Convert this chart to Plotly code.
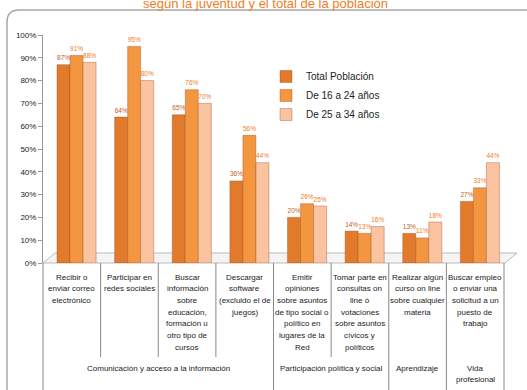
import plotly.graph_objects as go

categories = [
    "Recibir o<br>enviar correo<br>electrónico",
    "Participar en<br>redes sociales",
    "Buscar<br>información<br>sobre<br>educación,<br>formación u<br>otro tipo de<br>cursos",
    "Descargar<br>software<br>(excluido el de<br>juegos)",
    "Emitir<br>opiniones<br>sobre asuntos<br>de tipo social o<br>político en<br>lugares de la<br>Red",
    "Tomar parte en<br>consultas on<br>line ó<br>votaciones<br>sobre asuntos<br>cívicos y<br>políticos",
    "Realizar algún<br>curso on line<br>sobre cualquier<br>materia",
    "Buscar empleo<br>o enviar una<br>solicitud a un<br>puesto de<br>trabajo",
]
series_names = ["Total Población", "De 16 a 24 años", "De 25 a 34 años"]
total = [87, 64, 65, 36, 20, 14, 13, 27]
young_16_24 = [91, 95, 76, 56, 26, 13, 11, 33]
young_25_34 = [88, 80, 70, 44, 25, 16, 18, 44]
groups = [
    ("Comunicación y acceso a la información", 0, 3),
    ("Participación política y social", 4, 5),
    ("Aprendizaje", 6, 6),
    ("Vida<br>profesional", 7, 7),
]
y_ticks = [0, 10, 20, 30, 40, 50, 60, 70, 80, 90, 100]
title_text = "según la juventud y el total de la población"

colors = ["#E27A2B", "#F4963F", "#FBC3A0"]
label_colors = ["#C0601E", "#F07D1E", "#F07D1E"]
FONT = "Liberation Sans Narrow, Arial Narrow, Liberation Sans, Arial"

W, H = 527, 390
L, R, T, B = 43, 23, 35, 127
pw, ph = W - L - R, H - T - B

def px(x):
    return (x - L) / pw

def py(y):
    return (H - B - y) / ph

BW = 0.226
offsets = [-0.257, -0.031, 0.195]

fig = go.Figure()
xs = list(range(len(categories)))
for name, vals, c, lc, off in zip(series_names, [total, young_16_24, young_25_34], colors, label_colors, offsets):
    fig.add_trace(go.Bar(
        x=xs, y=[v / 100 for v in vals], name=name,
        width=BW, offset=off,
        marker=dict(color=c, line=dict(color="rgba(140,70,30,0.45)", width=0.8)),
        text=[f"{v}%" for v in vals], textposition="outside",
        textfont=dict(family=FONT, size=9, color=lc),
        cliponaxis=False,
    ))

shapes = []
shapes.append(dict(type="path", xref="paper", yref="paper",
                   path=f"M {px(7)},{py(400)} L {px(7)},{py(22)} Q {px(7)},{py(10)} {px(19)},{py(10)} L {px(540)},{py(10)}",
                   line=dict(color="#A8A8A8", width=1.5)))
# 3D floor
shapes.append(dict(type="path", xref="paper", yref="paper", layer="below",
                   path=f"M {px(43)},{py(263)} L {px(55)},{py(253)} L {px(517)},{py(253)} L {px(505)},{py(263)} Z",
                   fillcolor="#F4F4F4", line=dict(color="#BBBBBB", width=1)))
n = len(categories)
full_idx = {0, 4, 6, 7, 8}
for i in range(n + 1):
    xp = i / n
    yb = py(400) if i in full_idx else py(357)
    shapes.append(dict(type="line", xref="paper", yref="paper", x0=xp, x1=xp,
                       y0=0, y1=yb, line=dict(color="#888888", width=1)))

LINE = 11.7
annotations = []
for i, cat in enumerate(categories):
    for k, line in enumerate(cat.split("<br>")):
        annotations.append(dict(x=i, xref="x", y=py(277 + k * LINE), yref="paper", text=line,
                                showarrow=False, yanchor="middle", xanchor="center",
                                font=dict(family=FONT, size=8, color="#222222")))
for gname, a, b in groups:
    for k, line in enumerate(gname.split("<br>")):
        annotations.append(dict(x=(a + b + 1) / 2 / n, xref="paper", y=py(368 + k * LINE), yref="paper",
                                text=line, showarrow=False, yanchor="middle", xanchor="center",
                                font=dict(family=FONT, size=8, color="#222222")))
annotations.append(dict(x=px(265), xref="paper", y=py(4), yref="paper",
                        text=title_text,
                        showarrow=False, yanchor="middle", xanchor="center",
                        font=dict(family="Liberation Sans, Arial", size=13, color="#F07D1E")))

fig.update_layout(
    width=W, height=H,
    margin=dict(l=L, r=R, t=T, b=B, pad=0),
    paper_bgcolor="white", plot_bgcolor="rgba(0,0,0,0)",
    barmode="group",
    showlegend=True,
    legend=dict(x=px(266), y=py(62), xanchor="left", yanchor="top",
                font=dict(family=FONT, size=10, color="#222222"),
                bgcolor="rgba(0,0,0,0)", itemwidth=30, tracegroupgap=2),
    shapes=shapes, annotations=annotations,
    font=dict(family=FONT),
)
fig.update_xaxes(range=[-0.5, n - 0.5], showticklabels=False, showgrid=False,
                 zeroline=False, showline=False, ticks="")
fig.update_yaxes(range=[0, 1], tickvals=[t / 100 for t in y_ticks],
                 ticktext=[f"{t}%" for t in y_ticks], showgrid=False, zeroline=False,
                 showline=True, linecolor="#999999", linewidth=1,
                 ticks="outside", ticklen=4, tickcolor="#999999",
                 tickfont=dict(family=FONT, size=8, color="#222222"))

fig.write_html("out.html", config={"displayModeBar": False},
               post_script="document.body.style.margin='0';")
